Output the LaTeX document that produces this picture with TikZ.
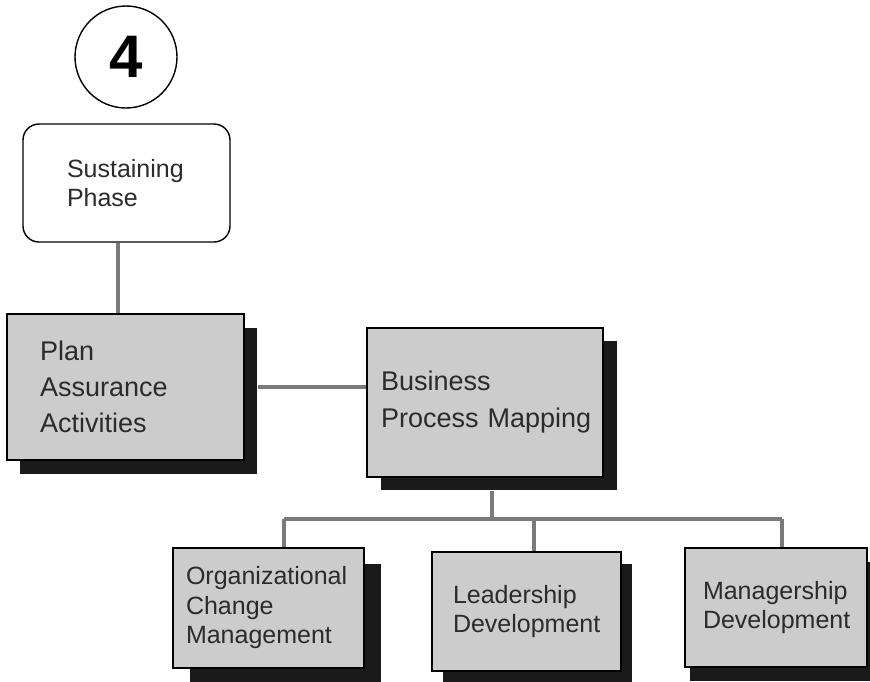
\documentclass[tikz,border=0pt]{standalone}
\usepackage{fontspec}
\setmainfont{Liberation Sans}
\usetikzlibrary{shadows}
\definecolor{boxgray}{HTML}{CCCCCC}
\definecolor{shadowblack}{HTML}{1A1A1A}
\definecolor{linegray}{HTML}{7A7A7A}
\definecolor{textgray}{HTML}{2B2B2B}
\begin{document}
\begin{tikzpicture}[x=1pt,y=-1pt,
  box/.style={draw=black, line width=1.6pt, fill=boxgray, inner sep=0pt,
    align=left, text=textgray},
  shad/.style 2 args={general shadow={fill=shadowblack, shadow xshift=#1pt, shadow yshift=-#2pt}},
  bigtext/.style={font=\fontsize{27}{36}\selectfont},
  smalltext/.style={font=\fontsize{25}{29.5}\selectfont},
  conn/.style={draw=linegray, line width=4.5pt}]
\clip (0,0) rectangle (870,681);
\fill[white] (0,0) rectangle (870,681);

% top circle and phase box
\node[circle, draw=black, line width=1.4pt, minimum size=102pt, inner sep=0pt,
  font=\fontsize{60}{60}\selectfont\bfseries] (num) at (126,57) {4};
\node[draw=black, line width=1.4pt, fill=white, rounded corners=16pt, inner sep=0pt,
  minimum width=207pt, minimum height=118pt, text width=119pt, align=left,
  text=textgray, smalltext] (sus) at (126.5,183) {Sustaining\\Phase};

% boxes
\node[box, shad={13}{14}, bigtext, minimum width=237pt, minimum height=146pt,
  text width=171pt] (plan) at (125.5,387) {Plan\\Assurance\\Activities};
\node[box, shad={14}{13}, font=\fontsize{27}{37}\selectfont, minimum width=236pt,
  minimum height=149pt, text width=208pt] (bpm) at (485,402.5) {Business\\\mbox{Process Mapping}};
\node[box, shad={17}{16}, smalltext, minimum width=191pt, minimum height=120pt,
  text width=165pt] (ocm) at (268.5,608) {Organizational\\Change\\Management};
\node[box, shad={11}{12}, smalltext, minimum width=189pt, minimum height=119pt,
  text width=147pt] (ld) at (526.5,611.5) {Leadership\\Development};
\node[box, shad={5}{14}, smalltext, minimum width=182pt, minimum height=119pt,
  text width=146pt] (md) at (776,607.5) {Managership\\Development};

% connectors
\draw[conn] ([xshift=-8.5pt]sus.south) -- ([xshift=-8.5pt]sus.south |- plan.north);
\draw[conn] ([xshift=13pt]plan.east) -- (bpm.west |- plan.east);
\coordinate (j1) at (284,519);
\coordinate (j3) at (782,519);
\draw[conn] ([xshift=7pt,yshift=-13pt]bpm.south) -- ([xshift=7pt]bpm.south |- j1);
\draw[conn] (j1) -- (j3);
\draw[conn] (j1) -- (j1 |- ocm.north);
\draw[conn] ([xshift=7.5pt]ld.north |- j1) -- ([xshift=7.5pt]ld.north);
\draw[conn] (j3) -- (j3 |- md.north);
\end{tikzpicture}
\end{document}
